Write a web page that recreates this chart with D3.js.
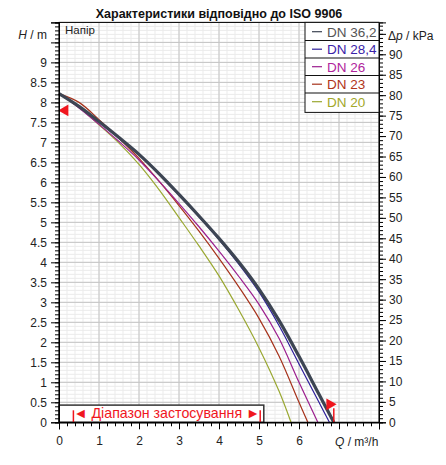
<!DOCTYPE html>
<html>
<head>
<meta charset="utf-8">
<script src="https://cdn.jsdelivr.net/npm/d3@7"></script>
<style>
  body { margin: 0; background: #fff; }
  svg { font-family: "Liberation Sans", Arial, sans-serif; }
  .axis text { font-size: 12px; fill: #222; }
  .axis path, .axis line { stroke: #000; }
</style>
</head>
<body>
<div id="chart"></div>
<script>
// pump curves (Q in m3/h, H in m)
const seriesNames = ["DN 36,2", "DN 28,4", "DN 26", "DN 23", "DN 20"];

const qDN362 = [0, 0.5, 1, 1.5, 2, 2.5, 3, 3.5, 4, 4.5, 5, 5.5, 6, 6.5, 6.87];
const hDN362 = [8.22, 7.9, 7.52, 7.12, 6.7, 6.22, 5.7, 5.16, 4.6, 4.0, 3.33, 2.55, 1.65, 0.7, 0];

const qDN284 = [0, 0.5, 1, 1.5, 2, 2.5, 3, 3.5, 4, 4.5, 5, 5.5, 6, 6.5, 6.76];
const hDN284 = [8.22, 7.89, 7.5, 7.1, 6.68, 6.2, 5.68, 5.14, 4.57, 3.95, 3.26, 2.42, 1.46, 0.5, 0];

const qDN26 = [0, 0.5, 1, 1.5, 2, 2.5, 3, 3.5, 4, 4.5, 5, 5.5, 6, 6.47];
const hDN26 = [8.22, 7.86, 7.45, 7.02, 6.56, 6.03, 5.47, 4.89, 4.28, 3.64, 2.95, 2.1, 1.0, 0];

const qDN23 = [0, 0.5, 1, 1.5, 2, 2.5, 3, 3.5, 4, 4.5, 5, 5.5, 6, 6.22];
const hDN23 = [8.22, 8.0, 7.57, 7.1, 6.6, 6.03, 5.42, 4.78, 4.1, 3.38, 2.6, 1.66, 0.5, 0];

const qDN20 = [0, 0.5, 1, 1.5, 2, 2.5, 3, 3.5, 4, 4.5, 5, 5.5, 5.8];
const hDN20 = [8.22, 7.88, 7.44, 6.98, 6.45, 5.82, 5.12, 4.41, 3.66, 2.8, 1.86, 0.78, 0];

// application range and limit markers
const rangeQ = [0.36, 5.03];
const rangeBoxTop = 0.43;
const rangeBoxRight = 5.12;
const maxHeadMark = 7.8;
const maxFlowMark = [6.87, 0.45];

const xTickLabels = [0, 1, 2, 3, 4, 5, 6];
const yTickLabels = d3.range(0, 9.01, 0.5);
const kTickLabels = d3.range(0, 90.1, 5);

const curves = [
  {name: seriesNames[4], q: qDN20, h: hDN20},
  {name: seriesNames[3], q: qDN23, h: hDN23},
  {name: seriesNames[2], q: qDN26, h: hDN26},
  {name: seriesNames[1], q: qDN284, h: hDN284},
  {name: seriesNames[0], q: qDN362, h: hDN362}
];

const lineColor = {
  "DN 36,2": "#3d4553", "DN 28,4": "#2d1e9a", "DN 26": "#9c1f8f",
  "DN 23": "#a6321b", "DN 20": "#9aa832"
};
const textColor = {
  "DN 36,2": "#555555", "DN 28,4": "#3a22a8", "DN 26": "#b0249c",
  "DN 23": "#b03418", "DN 20": "#a2a82a"
};
const red = "#f0161e";

const W = 446, H = 465;
const margin = {top: 22.4, right: 67, bottom: 42.7, left: 59};
const width = W - margin.left - margin.right;
const height = H - margin.top - margin.bottom;

const svg = d3.select("#chart").append("svg")
  .attr("width", W)
  .attr("height", H);

const x = d3.scaleLinear().domain([0, 8]).range([margin.left, margin.left + width]);
const y = d3.scaleLinear().domain([0, 10]).range([margin.top + height, margin.top]);
// kPa axis on the right, same span as the head axis
const kPaPerM = 9.78;
const yk = d3.scaleLinear().domain([0, 10 * kPaPerM]).range([margin.top + height, margin.top]);

// grid
const grid = svg.append("g");
grid.selectAll(".vmin").data(d3.range(0, 8.01, 0.2))
  .enter().append("line")
  .attr("x1", d => x(d)).attr("x2", d => x(d))
  .attr("y1", y(0)).attr("y2", y(10))
  .attr("stroke", "#ebebeb");
grid.selectAll(".hmin").data(d3.range(0, 10.01, 0.1))
  .enter().append("line")
  .attr("x1", x(0)).attr("x2", x(8))
  .attr("y1", d => y(d)).attr("y2", d => y(d))
  .attr("stroke", "#ebebeb");
grid.selectAll(".vmaj").data(d3.range(0, 8.01, 1))
  .enter().append("line")
  .attr("x1", d => x(d)).attr("x2", d => x(d))
  .attr("y1", y(0)).attr("y2", y(10))
  .attr("stroke", "#c4c4c4");
grid.selectAll(".hmaj").data(d3.range(0, 10.01, 0.5))
  .enter().append("line")
  .attr("x1", x(0)).attr("x2", x(8))
  .attr("y1", d => y(d)).attr("y2", d => y(d))
  .attr("stroke", "#c4c4c4");

// application range box
svg.append("rect")
  .attr("x", x(0))
  .attr("y", y(rangeBoxTop))
  .attr("width", x(rangeBoxRight) - x(0))
  .attr("height", y(0) - y(rangeBoxTop))
  .attr("fill", "#fff")
  .attr("stroke", "#333")
  .attr("stroke-width", 1.5);

svg.selectAll(".rangeTick").data(rangeQ)
  .enter().append("line")
  .attr("x1", d => x(d)).attr("x2", d => x(d))
  .attr("y1", y(0)).attr("y2", y(0.3))
  .attr("stroke", red).attr("stroke-width", 1.5);

svg.append("text")
  .attr("x", (x(rangeQ[0]) + x(rangeQ[1])) / 2)
  .attr("y", y(0.23))
  .attr("dy", "0.36em")
  .attr("text-anchor", "middle")
  .attr("font-size", 14.2)
  .attr("fill", red)
  .text("\u25C4 Діапазон застосування \u25BA");

// curves
const line = d3.line()
  .x(d => x(d[0]))
  .y(d => y(d[1]))
  .curve(d3.curveCatmullRom.alpha(0.5));

svg.selectAll(".curve").data(curves)
  .enter().append("path")
  .attr("fill", "none")
  .attr("stroke", d => lineColor[d.name])
  .attr("stroke-width", d => d.name === "DN 36,2" ? 3.2 : 1.2)
  .attr("d", d => line(d.q.map((q, i) => [q, d.h[i]])));

// limit markers
svg.append("path")
  .attr("d", d3.symbol(d3.symbolTriangle, 60)())
  .attr("transform", "translate(" + (x(0) + 6) + "," + y(maxHeadMark) + ") rotate(-90)")
  .attr("fill", red);
svg.append("path")
  .attr("d", d3.symbol(d3.symbolTriangle, 60)())
  .attr("transform", "translate(" + (x(maxFlowMark[0]) - 4) + "," + y(maxFlowMark[1]) + ") rotate(90)")
  .attr("fill", red);
svg.append("line")
  .attr("x1", x(maxFlowMark[0])).attr("x2", x(maxFlowMark[0]))
  .attr("y1", y(0)).attr("y2", y(0.35))
  .attr("stroke", red).attr("stroke-width", 1.5);

// frame
svg.append("rect")
  .attr("x", x(0)).attr("y", y(10))
  .attr("width", width).attr("height", height)
  .attr("fill", "none").attr("stroke", "#000");

// axes
svg.append("g").attr("class", "axis")
  .attr("transform", "translate(" + x(0) + ",0)")
  .call(d3.axisLeft(y).tickValues(d3.range(0, 10.01, 0.1)).tickSize(4).tickFormat(""));
svg.append("g").attr("class", "axis")
  .attr("transform", "translate(" + x(0) + ",0)")
  .call(d3.axisLeft(y).tickValues(d3.range(0, 10.01, 0.5)).tickSize(8).tickPadding(4)
    .tickFormat(d => yTickLabels.some(v => Math.abs(v - d) < 1e-6) ? d3.format("~g")(+d.toFixed(1)) : ""));

svg.append("g").attr("class", "axis")
  .attr("transform", "translate(0," + y(0) + ")")
  .call(d3.axisBottom(x).tickValues(d3.range(0, 8.01, 0.2)).tickSize(4).tickFormat(""));
svg.append("g").attr("class", "axis")
  .attr("transform", "translate(0," + y(0) + ")")
  .call(d3.axisBottom(x).tickValues(d3.range(0, 8.01, 1)).tickSize(7).tickPadding(7)
    .tickFormat(d => xTickLabels.includes(d) ? d : ""));

svg.append("g").attr("class", "axis")
  .attr("transform", "translate(" + x(8) + ",0)")
  .call(d3.axisRight(yk).tickValues(d3.range(0, 98, 1)).tickSize(4).tickFormat(""));
svg.append("g").attr("class", "axis")
  .attr("transform", "translate(" + x(8) + ",0)")
  .call(d3.axisRight(yk).tickValues(d3.range(0, 96, 5)).tickSize(7).tickPadding(3)
    .tickFormat(d => kTickLabels.includes(d) ? d : ""));

svg.selectAll(".axis .domain").attr("stroke-width", 1);

// axis titles
const hLabel = svg.append("text")
  .attr("x", 47).attr("y", 39)
  .attr("text-anchor", "end")
  .attr("font-size", 12).attr("fill", "#222");
hLabel.append("tspan").attr("font-style", "italic").text("H");
hLabel.append("tspan").text(" / m");

const pLabel = svg.append("text")
  .attr("x", 388).attr("y", 40)
  .attr("font-size", 12).attr("fill", "#222");
pLabel.append("tspan").text("\u0394");
pLabel.append("tspan").attr("font-style", "italic").text("p");
pLabel.append("tspan").text(" / kPa");

const qLabel = svg.append("text")
  .attr("x", 335).attr("y", 446)
  .attr("font-size", 12).attr("fill", "#222");
qLabel.append("tspan").attr("font-style", "italic").text("Q");
qLabel.append("tspan").text(" / m\u00B3/h");

svg.append("text")
  .attr("x", 65).attr("y", 34)
  .attr("font-size", 11.5).attr("fill", "#222")
  .text("Напір");

svg.append("text")
  .attr("x", 219).attr("y", 18)
  .attr("text-anchor", "middle")
  .attr("font-size", 12.5).attr("font-weight", "bold").attr("fill", "#111")
  .text("Характеристики відповідно до ISO 9906");

// legend
const legX = 305, legRight = x(8), legTop = y(10), rowH = 17.5;
const legend = svg.append("g");
legend.append("rect")
  .attr("x", legX).attr("y", legTop)
  .attr("width", legRight - legX).attr("height", 20 + rowH * 4)
  .attr("fill", "#fff").attr("stroke", "#111");

const rows = legend.selectAll(".row").data(seriesNames)
  .enter().append("g")
  .attr("transform", (d, i) => "translate(0," + (legTop + 9.3 + i * rowH) + ")");

rows.filter((d, i) => i > 0).append("line")
  .attr("x1", legX).attr("x2", legRight)
  .attr("y1", -8.7).attr("y2", -8.7)
  .attr("stroke", "#111").attr("stroke-width", 1.2);

rows.append("line")
  .attr("x1", legX + 7).attr("x2", legX + 17)
  .attr("y1", 0).attr("y2", 0)
  .attr("stroke", d => lineColor[d]).attr("stroke-width", 1.2);

rows.append("text")
  .attr("x", legX + 22)
  .attr("dy", "0.36em")
  .attr("font-size", 13.5)
  .attr("fill", d => textColor[d])
  .text(d => d);
</script>
</body>
</html>
